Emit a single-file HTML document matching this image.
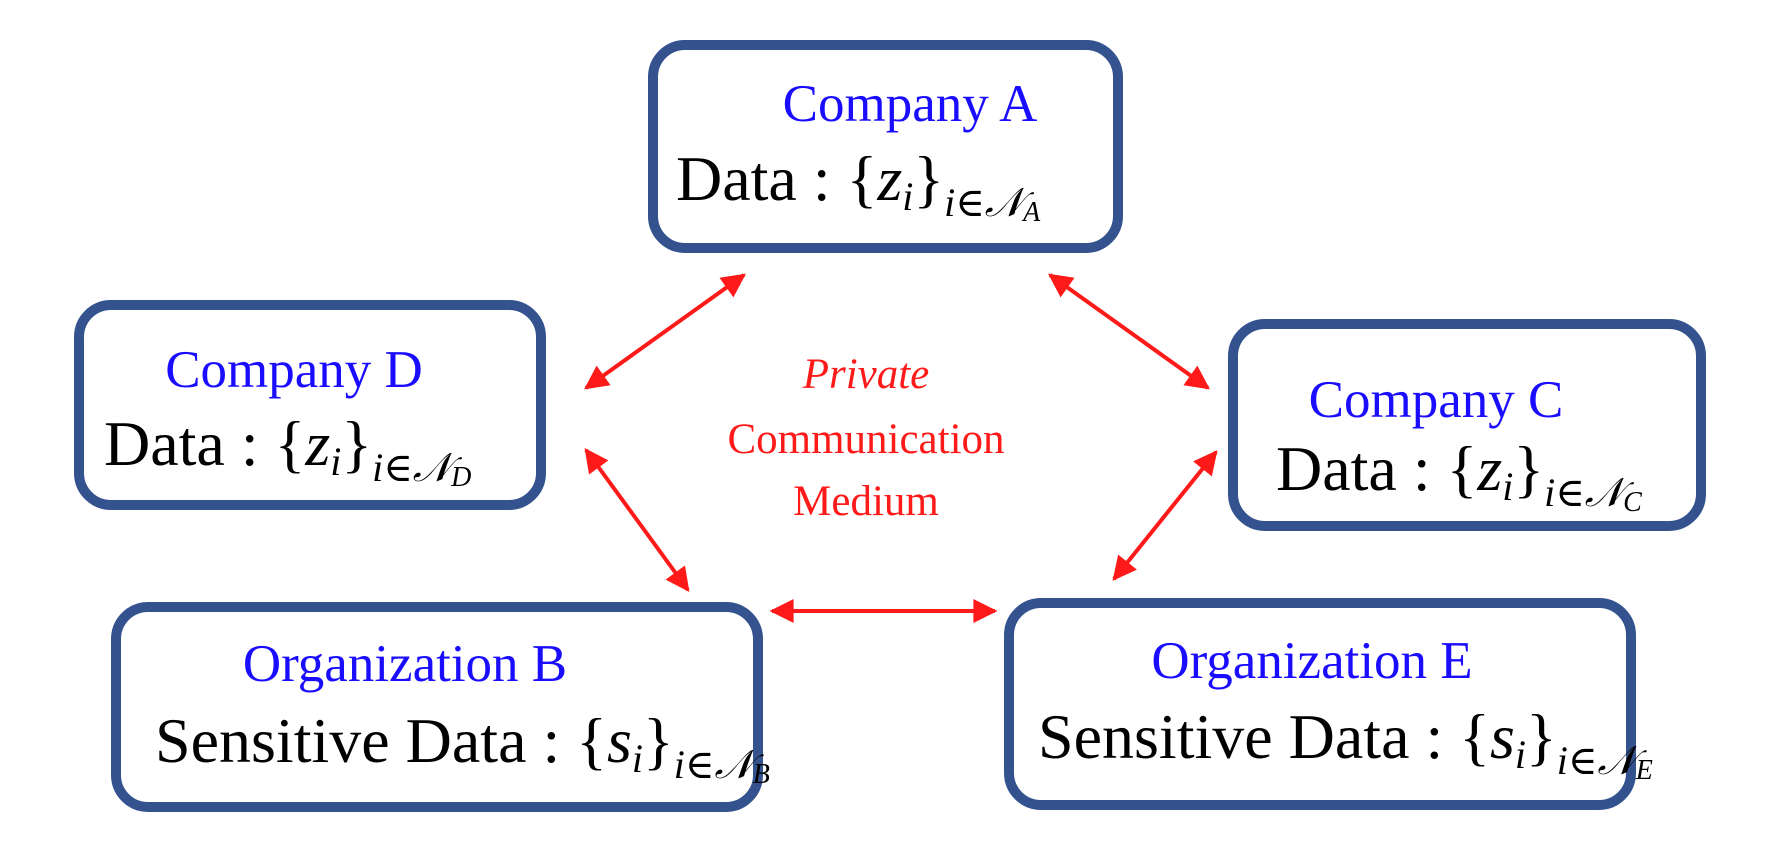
<!DOCTYPE html>
<html><head><meta charset="utf-8"><style>
html,body{margin:0;padding:0;background:#fff;}
svg{display:block;}
.t{font-family:"Liberation Serif","DejaVu Serif",serif;fill:#1a0dff;font-size:53px;text-anchor:middle;}
.d{font-family:"Liberation Serif","DejaVu Serif",serif;fill:#000;font-size:64px;}
.c{font-family:"Liberation Serif","DejaVu Serif",serif;fill:#ff1a1a;font-size:43px;text-anchor:middle;}
.s{font-size:40px;}
</style></head><body>
<svg width="1776" height="849" viewBox="0 0 1776 849" xmlns="http://www.w3.org/2000/svg">
<defs>
<marker id="ah" viewBox="0 0 10 10" refX="9" refY="5" markerWidth="7" markerHeight="6" orient="auto-start-reverse" markerUnits="strokeWidth">
<path d="M0,0 L10,5 L0,10 z" fill="#ff1a1a"/></marker>
</defs>
<g fill="#fff" stroke="#33528e" stroke-width="10">
<rect x="653" y="45" width="465" height="203" rx="32"/>
<rect x="79" y="305" width="462" height="200" rx="32"/>
<rect x="1233" y="324" width="468" height="202" rx="32"/>
<rect x="116" y="607" width="642" height="200" rx="32"/>
<rect x="1009" y="603" width="622" height="202" rx="32"/>
</g>
<g stroke="#ff1a1a" stroke-width="4" marker-start="url(#ah)" marker-end="url(#ah)">
<line x1="586" y1="388" x2="744" y2="275"/>
<line x1="1050" y1="275" x2="1208" y2="388"/>
<line x1="586" y1="450" x2="688" y2="590"/>
<line x1="1216" y1="452" x2="1114" y2="579"/>
<line x1="772" y1="611" x2="995" y2="611"/>
</g>
<text class="t" x="910" y="121">Company A</text>
<text class="d" x="676" y="200">Data : {<tspan font-style="italic">z</tspan><tspan class="s" font-style="italic" dy="10">i</tspan><tspan dy="-10">}</tspan><tspan class="s" dy="16"><tspan font-style="italic">i</tspan>∈<tspan font-style="italic">𝒩</tspan><tspan font-style="italic" font-size="28" dy="5">A</tspan></tspan></text>
<text class="t" x="294" y="387">Company D</text>
<text class="d" x="104" y="465">Data : {<tspan font-style="italic">z</tspan><tspan class="s" font-style="italic" dy="10">i</tspan><tspan dy="-10">}</tspan><tspan class="s" dy="16"><tspan font-style="italic">i</tspan>∈<tspan font-style="italic">𝒩</tspan><tspan font-style="italic" font-size="28" dy="5">D</tspan></tspan></text>
<text class="t" x="1436" y="417">Company C</text>
<text class="d" x="1276" y="490">Data : {<tspan font-style="italic">z</tspan><tspan class="s" font-style="italic" dy="10">i</tspan><tspan dy="-10">}</tspan><tspan class="s" dy="16"><tspan font-style="italic">i</tspan>∈<tspan font-style="italic">𝒩</tspan><tspan font-style="italic" font-size="28" dy="5">C</tspan></tspan></text>
<text class="t" x="405" y="681">Organization B</text>
<text class="d" x="155" y="762">Sensitive Data : {<tspan font-style="italic">s</tspan><tspan class="s" font-style="italic" dy="10">i</tspan><tspan dy="-10">}</tspan><tspan class="s" dy="16"><tspan font-style="italic">i</tspan>∈<tspan font-style="italic">𝒩</tspan><tspan font-style="italic" font-size="28" dy="5">B</tspan></tspan></text>
<text class="t" x="1312" y="678">Organization E</text>
<text class="d" x="1038" y="758">Sensitive Data : {<tspan font-style="italic">s</tspan><tspan class="s" font-style="italic" dy="10">i</tspan><tspan dy="-10">}</tspan><tspan class="s" dy="16"><tspan font-style="italic">i</tspan>∈<tspan font-style="italic">𝒩</tspan><tspan font-style="italic" font-size="28" dy="5">E</tspan></tspan></text>
<text class="c" x="866" y="388" font-style="italic">Private</text>
<text class="c" x="866" y="453">Communication</text>
<text class="c" x="866" y="515">Medium</text>
</svg>
</body></html>
